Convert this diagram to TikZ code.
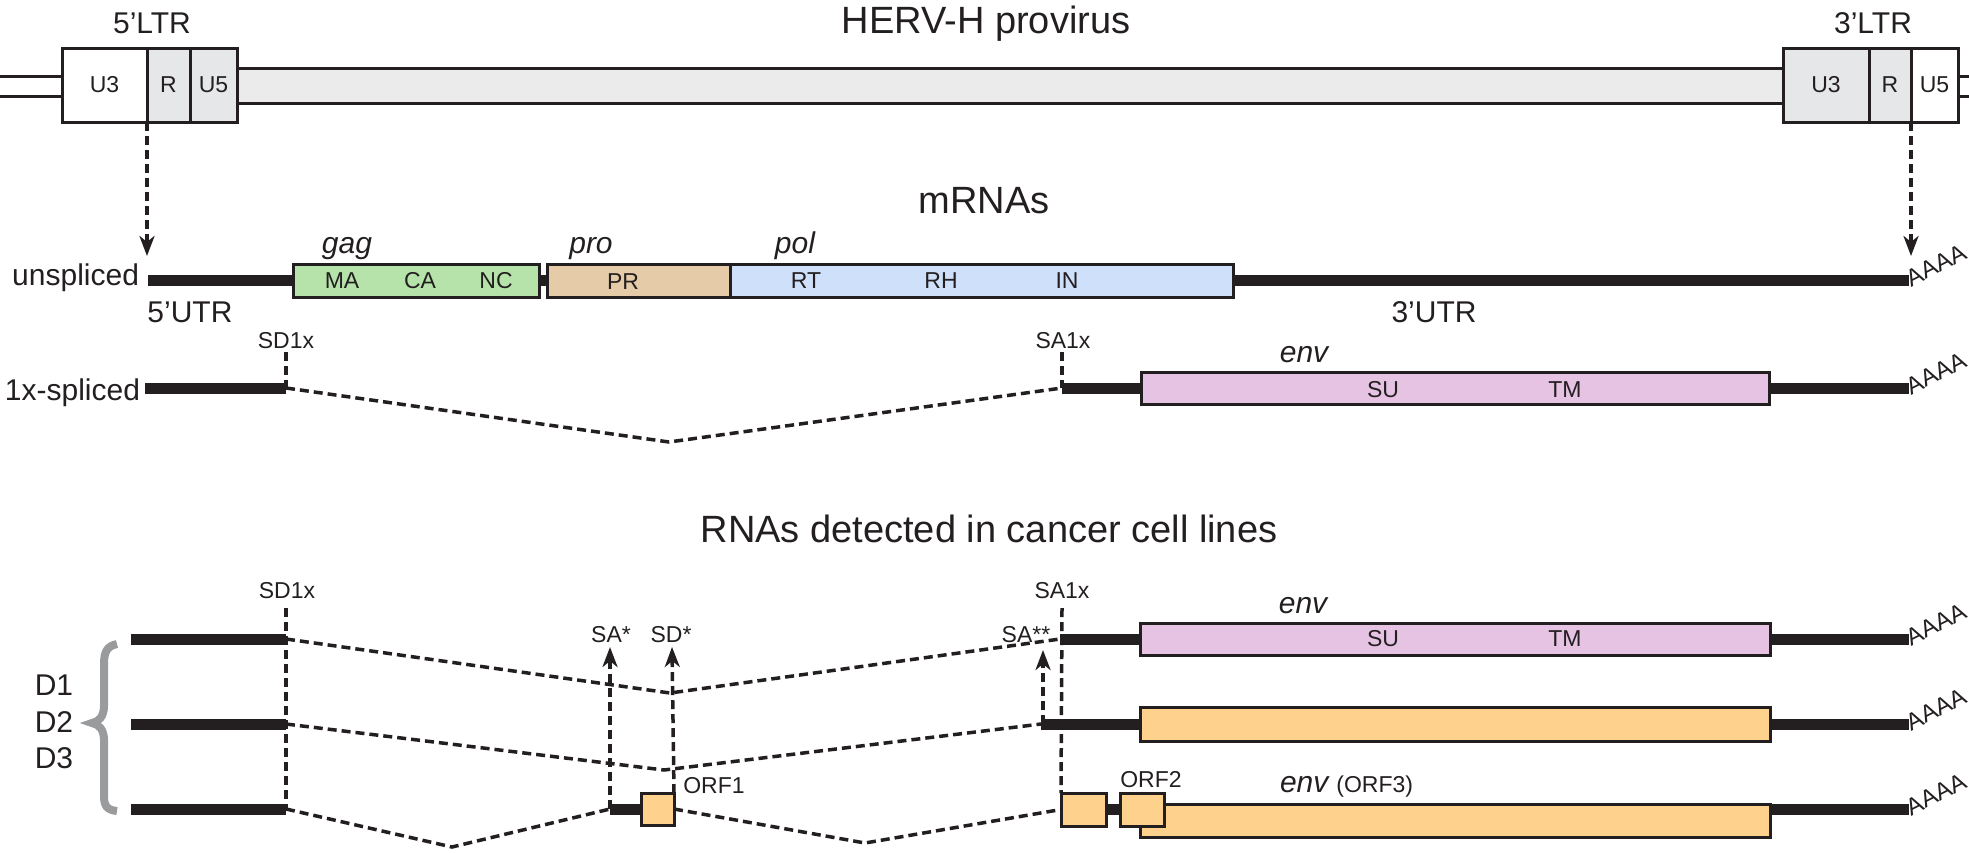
\documentclass[tikz,border=0pt]{standalone}
\usepackage{fontspec}
\setmainfont{Liberation Sans}
\usetikzlibrary{arrows.meta}
\definecolor{ink}{HTML}{231F20}
\definecolor{ltrc}{HTML}{E6E7E8}
\definecolor{bodyc}{HTML}{EBEBEC}
\definecolor{gagc}{HTML}{B5E3A9}
\definecolor{proc}{HTML}{E6CBA8}
\definecolor{polc}{HTML}{CFE0FA}
\definecolor{envc}{HTML}{E6C2E3}
\definecolor{orfc}{HTML}{FED18C}
\definecolor{bracec}{HTML}{9A9B9D}
\newcommand\fttl{\fontsize{38pt}{45pt}\selectfont}
\newcommand\fmid{\fontsize{30pt}{36pt}\selectfont}
\newcommand\fsml{\fontsize{23pt}{28pt}\selectfont}
\newcommand\fpa{\fontsize{24pt}{28pt}\selectfont}
\begin{document}
\begin{tikzpicture}[x=1pt,y=-1pt,
  gbox/.style={draw=ink, line width=3pt, inner sep=0pt, outer sep=0pt, font=\fsml, text=ink},
  rna/.style={draw=ink, line width=11pt},
  splice/.style={draw=ink, line width=3.5pt, dash pattern=on 9pt off 5pt},
  darrow/.style={splice, -{Stealth[length=20pt,width=15pt,inset=6pt]}},
  dline/.style={draw=ink, line width=3pt},
  lbl/.style={inner sep=0pt, outer sep=0pt, text=ink, anchor=base},
  ttl/.style={lbl, font=\fttl},
  mid/.style={lbl, font=\fmid},
  gene/.style={lbl, font=\fmid\itshape},
  sml/.style={lbl, font=\fsml},
  polya/.style={inner sep=0pt, outer sep=0pt, text=ink, font=\fpa, rotate=27, anchor=base west},
]
\useasboundingbox (0,0) rectangle (1969,852);

% ---------------- provirus ----------------
\node[ttl] (tprov) at (986,33) {HERV-H provirus};
\node[mid] (t5ltr) at (152,33) {5’LTR};
\node[mid] (t3ltr) at (1873,33) {3’LTR};

\node[gbox, fill=bodyc, minimum width=1546pt, minimum height=35pt] (body) at (1010,85.5) {};
\node[gbox, fill=white, minimum width=85pt, minimum height=74pt] (l5u3) at (104.5,85) {U3};
\node[gbox, fill=ltrc, minimum width=43pt, minimum height=74pt] (l5r) at (168.5,85) {R};
\node[gbox, fill=ltrc, minimum width=47pt, minimum height=74pt] (l5u5) at (213.5,85) {U5};
\node[gbox, fill=ltrc, minimum width=86pt, minimum height=74pt] (l3u3) at (1826,85) {U3};
\node[gbox, fill=ltrc, minimum width=42pt, minimum height=74pt] (l3r) at (1890,85) {R};
\node[gbox, fill=white, minimum width=47pt, minimum height=74pt] (l3u5) at (1934.5,85) {U5};

\coordinate (la) at (0,76); \coordinate (lb) at (0,96);
\coordinate (ra) at (1969,76); \coordinate (rb) at (1969,96);
\draw[dline] (la) -- (la -| l5u3.west);
\draw[dline] (lb) -- (lb -| l5u3.west);
\draw[dline] (ra) -- (ra -| l3u5.east);
\draw[dline] (rb) -- (rb -| l3u5.east);

% ---------------- mRNAs ----------------
\node[ttl] (tmrna) at (984,213) {mRNAs};

\coordinate (us0) at (148,280); \coordinate (us1) at (1909,280);
\draw[rna] (us0) -- (us1);
\node[gbox, fill=gagc, minimum width=246pt, minimum height=33pt] (gag) at (416,280.5) {};
\node[gbox, fill=proc, minimum width=183pt, minimum height=33pt] (pro) at (638.5,280.5) {};
\node[gbox, fill=polc, minimum width=503pt, minimum height=33pt] (pol) at (981.5,280.5) {};
\node[sml] (tma) at (342,288) {MA};
\node[sml] (tca) at (420,288) {CA};
\node[sml] (tnc) at (496,288) {NC};
\node[sml] (tpr) at (623,289) {PR};
\node[sml] (trt) at (806,288) {RT};
\node[sml] (trh) at (941,288) {RH};
\node[sml] (tin) at (1067,288) {IN};
\node[gene] (tgag) at (347,253) {gag};
\node[gene] (tpro) at (591,253) {pro};
\node[gene] (tpol) at (795,253) {pol};
\node[mid] (t5utr) at (190,322) {5’UTR};
\node[mid] (t3utr) at (1434,322) {3’UTR};
\node[mid, anchor=base east] (tuns) at (139,285) {unspliced};
\node[polya] (pa0) at (1911,287) {AAAA};

\coordinate (tip5) at (147,256);
\coordinate (tip3) at (1911,256);
\draw[darrow] (l5r.south west) -- (tip5);
\draw[darrow] (l3u5.south west) -- (tip3);

% 1x-spliced
\node[mid, anchor=base east] (tone) at (140,400) {1x-spliced};
\coordinate (o0) at (145,388); \coordinate (osd) at (286,388);
\coordinate (ov) at (669,442); \coordinate (osa) at (1062,388);
\coordinate (osdt) at (286,352); \coordinate (osat) at (1062,352);
\node[gbox, fill=envc, minimum width=628pt, minimum height=32pt] (env1) at (1455,388) {};
\coordinate (o1) at (1909,388);
\draw[rna] (o0) -- (osd);
\draw[rna] (osa) -- (env1.west);
\draw[rna] (env1.east) -- (o1);
\draw[splice] (osdt) -- (osd);
\draw[splice] (osat) -- (osa);
\draw[splice] (osd) -- (ov) -- (osa);
\node[sml] (tsd1) at (286,348) {SD1x};
\node[sml] (tsa1) at (1063,348) {SA1x};
\node[gene] (tenv1) at (1304,362) {env};
\node[sml] (tsu1) at (1383,397) {SU};
\node[sml] (ttm1) at (1565,397) {TM};
\node[polya] (pa1) at (1911,395) {AAAA};

% ---------------- cancer cell lines ----------------
\node[ttl] (tcanc) at (989,542) {RNAs detected in cancer cell lines};

\node[sml] (bsd) at (287,598) {SD1x};
\node[sml] (bsa) at (1062,598) {SA1x};
\coordinate (bsdt) at (286,608); \coordinate (bsdb) at (286,809);
\coordinate (bsat) at (1062,608);
\draw[splice] (bsdt) -- (bsdb);

% D1
\coordinate (d1a) at (131,639); \coordinate (d1sd) at (286,639);
\coordinate (d1v) at (670,693); \coordinate (d1sa) at (1060,639);
\coordinate (d1e) at (1909,639);
\node[gbox, fill=envc, minimum width=630pt, minimum height=32pt] (envd1) at (1455,639) {};
\draw[rna] (d1a) -- (d1sd);
\draw[splice] (d1sd) -- (d1v) -- (d1sa);
\draw[rna] (d1sa) -- (envd1.west);
\draw[rna] (envd1.east) -- (d1e);
\node[gene] (tenvd1) at (1303,613) {env};
\node[sml] (tsud1) at (1383,646) {SU};
\node[sml] (ttmd1) at (1565,646) {TM};
\node[polya] (pa2) at (1911,646) {AAAA};

% D2
\coordinate (d2a) at (131,724); \coordinate (d2sd) at (286,724);
\coordinate (d2v) at (664,770); \coordinate (d2sa) at (1041,724);
\coordinate (d2e) at (1909,724);
\node[gbox, fill=orfc, minimum width=630pt, minimum height=34pt] (envd2) at (1455,724) {};
\draw[rna] (d2a) -- (d2sd);
\draw[splice] (d2sd) -- (d2v) -- (d2sa);
\draw[rna] (d2sa) -- (envd2.west);
\draw[rna] (envd2.east) -- (d2e);
\node[polya] (pa3) at (1911,731) {AAAA};

% D3
\coordinate (d3a) at (131,809); \coordinate (d3sd) at (286,809);
\coordinate (d3v1) at (452,847); \coordinate (d3sa1) at (610,809);
\node[gbox, fill=orfc, minimum width=33pt, minimum height=32pt] (orf1) at (657.5,809) {};
\coordinate (d3v2) at (865,843);
\node[gbox, fill=orfc, minimum width=630pt, minimum height=33pt] (orf3) at (1455,820.5) {};
\node[gbox, fill=orfc, minimum width=45pt, minimum height=33pt] (orfa) at (1083.5,809.5) {};
\coordinate (d3e) at (1909,809);
\draw[rna] (d3a) -- (d3sd);
\draw[splice] (d3sd) -- (d3v1) -- (d3sa1);
\draw[rna] (d3sa1) -- (orf1.west);
\draw[splice] (orf1.east) -- (d3v2) -- (orfa.west);
\draw[rna] (orfa.east) -- ++(16,0) coordinate (orfbw);
\node[gbox, fill=orfc, minimum width=44pt, minimum height=33pt] (orfb) at (1142,809.5) {};
\draw[rna] (orf3.east |- d3e) -- (d3e);
\node[polya] (pa4) at (1911,816) {AAAA};
\draw[splice] (bsat) -- (orfa.north west);

% alternative sites
\coordinate (sat) at (610,647);
\coordinate (sdt) at (672,647);
\coordinate (sa2b) at (1043,724); \coordinate (sa2t) at (1043,650);
\draw[darrow] (d3sa1) -- (sat);
\draw[darrow] (orf1.north east) -- (sdt);
\draw[darrow] (sa2b) -- (sa2t);
\node[sml] (tsas) at (611,642) {SA*};
\node[sml] (tsds) at (671,642) {SD*};
\node[sml] (tsass) at (1026,642) {SA**};
\node[sml] (torf1) at (714,793) {ORF1};
\node[sml] (torf2) at (1151,787) {ORF2};
\node[lbl, anchor=base west] (tenv3) at (1280,792) {{\fmid\itshape env}\hspace{8pt}{\fsml (ORF3)}};

% brace and D labels
\draw[bracec, line width=8pt] (117,644) .. controls (107,646) and (104,652) .. (104,664)
  -- (104,706) .. controls (104,716) and (99,722) .. (92,723)
  .. controls (99,724) and (104,730) .. (104,740)
  -- (104,796) .. controls (104,806) and (107,810) .. (117,811);
\node[mid] (td1) at (54,695) {D1};
\node[mid] (td2) at (54,732) {D2};
\node[mid] (td3) at (54,768) {D3};
\end{tikzpicture}
\end{document}
